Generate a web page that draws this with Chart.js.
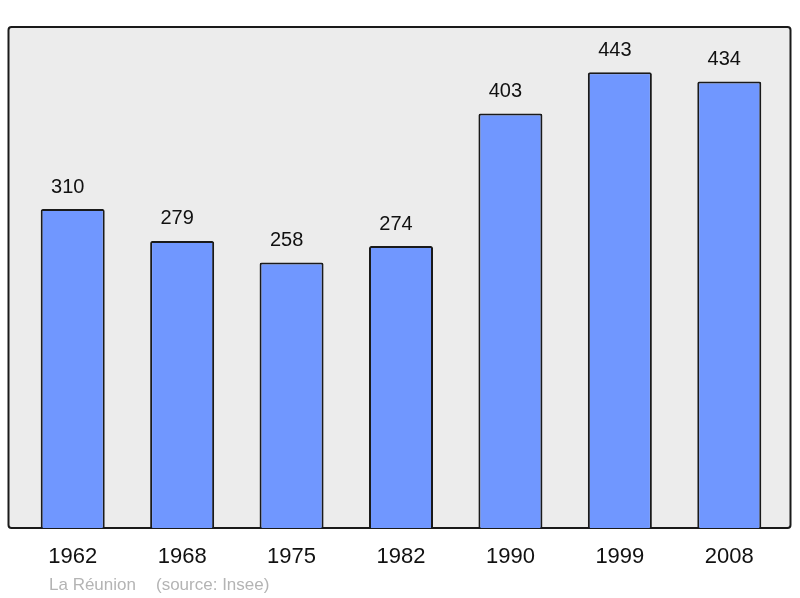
<!DOCTYPE html>
<html>
<head>
<meta charset="utf-8">
<script src="https://cdn.jsdelivr.net/npm/chart.js@4/dist/chart.umd.min.js"></script>
<style>
  html, body { margin: 0; padding: 0; background: #fff; }
  #wrap { width: 800px; height: 598px; }
</style>
</head>
<body>
<div id="wrap"><canvas id="popChart"></canvas></div>
<script>
const years = ['1962', '1968', '1975', '1982', '1990', '1999', '2008'];
const population = [310, 279, 258, 274, 403, 443, 434];
const footerPlace = 'La Réunion';
const footerSource = '(source: Insee)';

// grey box behind the bars, slightly wider than the category area
const boxPlugin = {
  id: 'box',
  beforeDraw(chart) {
    const { ctx, chartArea } = chart;
    const x = chartArea.left - 9.5, y = chartArea.top;
    const w = chartArea.right + 6.5 - x, h = chartArea.bottom - y;
    ctx.save();
    ctx.fillStyle = '#ececec';
    ctx.strokeStyle = '#1a1a1a';
    ctx.lineWidth = 2;
    ctx.beginPath();
    ctx.roundRect(x, y, w, h, 3);
    ctx.fill();
    ctx.stroke();
    ctx.restore();
  },
  afterDraw(chart) {
    const { ctx } = chart;
    ctx.save();
    // value labels above bars
    const meta = chart.getDatasetMeta(0);
    ctx.font = '20px "Liberation Sans", Arial, sans-serif';
    ctx.fillStyle = '#111';
    ctx.textAlign = 'center';
    ctx.textBaseline = 'middle';
    meta.data.forEach((bar, i) => {
      ctx.fillText(String(population[i]), bar.x - 5, bar.y - 22);
    });
    // footer
    ctx.font = '17px "Liberation Sans", Arial, sans-serif';
    ctx.fillStyle = '#b4b4b4';
    ctx.textAlign = 'left';
    ctx.textBaseline = 'alphabetic';
    ctx.fillText(footerPlace, 49, 590);
    ctx.fillText(footerSource, 156, 590);
    ctx.restore();
  }
};

new Chart(document.getElementById('popChart'), {
  type: 'bar',
  data: {
    labels: years,
    datasets: [{
      data: population,
      backgroundColor: '#7097ff',
      borderColor: '#1a1a1a',
      borderWidth: 2,
      borderRadius: 2,
      borderSkipped: 'bottom',
      barPercentage: 0.585,
      categoryPercentage: 1
    }]
  },
  options: {
    responsive: true,
    maintainAspectRatio: false,
    animation: false,
    layout: { padding: { left: 18, right: 16, top: 27, bottom: 0 } },
    plugins: {
      legend: { display: false },
      tooltip: { enabled: false }
    },
    scales: {
      x: {
        grid: { display: false, drawTicks: false },
        border: { display: false },
        ticks: {
          color: '#111',
          padding: 16,
          font: { size: 22, family: '"Liberation Sans", Arial, sans-serif' }
        },
        afterFit(scale) { scale.height = 70; }
      },
      y: {
        display: false,
        min: 0,
        max: 487
      }
    }
  },
  plugins: [boxPlugin]
});
</script>
</body>
</html>
